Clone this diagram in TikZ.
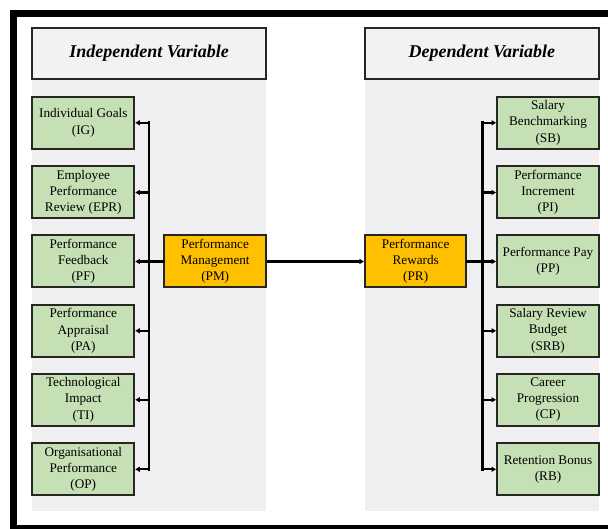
\documentclass[tikz,border=0pt]{standalone}
\usepackage{fontspec}
\setmainfont{Liberation Serif}
\usetikzlibrary{arrows.meta}
\definecolor{boxgreen}{HTML}{C5E0B4}
\definecolor{boxorange}{HTML}{FFC000}
\definecolor{panelgray}{HTML}{EFEFF1}
\definecolor{headgray}{HTML}{F2F2F2}
\definecolor{edge}{HTML}{262626}
\begin{document}
\begin{tikzpicture}[x=1pt,y=-1pt,
  base/.style={draw=edge,line width=2pt,align=center,inner sep=0pt,
    font=\fontsize{13.2}{16.2}\selectfont,text=black},
  greenbox/.style={base,fill=boxgreen,minimum width=102pt,minimum height=52pt},
  orangebox/.style={base,fill=boxorange,minimum width=101.5pt,minimum height=52pt},
  headbox/.style={base,fill=headgray,minimum width=233.7pt,minimum height=51.6pt,
    font=\fontsize{18}{21}\selectfont\bfseries\itshape},
  bus/.style={line width=2.7pt,line cap=rect},
  arr/.style={line width=2.2pt,-{Triangle[length=4.5pt,width=5pt]}}
]
\useasboundingbox (0,0) rectangle (608,529);
\begin{scope}
\clip (0,0) rectangle (608,529);
\fill[white] (0,0) rectangle (608,529);
\draw[line width=7pt] (13.5,13.5) rectangle (640,528.5);
\end{scope}
% panels
\fill[panelgray] (32.3,79.3) rectangle (266,510.7);
\fill[panelgray] (365,79.3) rectangle (598.7,510.7);
% headers
\node[headbox] (hl) at (149.2,53.5) {Independent Variable};
\node[headbox] (hr) at (481.9,53.5) {Dependent Variable};
% left boxes
\node[greenbox] (IG)  at (83.3,122.8) {Individual Goals\\(IG)};
\node[greenbox] (EPR) at (83.3,192.5) {Employee\\Performance\\Review (EPR)};
\node[greenbox] (PF)  at (83.3,261.5) {Performance\\Feedback\\(PF)};
\node[greenbox] (PA)  at (83.3,330.8) {Performance\\Appraisal\\(PA)};
\node[greenbox] (TI)  at (83.3,399.8) {Technological\\Impact\\(TI)};
\node[greenbox] (OP)  at (83.3,469.3) {Organisational\\Performance\\(OP)};
% right boxes
\node[greenbox] (SB)  at (548,122.8) {Salary\\Benchmarking\\(SB)};
\node[greenbox] (PI)  at (548,192.5) {Performance\\Increment\\(PI)};
\node[greenbox] (PP)  at (548,261.5) {Performance Pay\\(PP)};
\node[greenbox] (SRB) at (548,330.8) {Salary Review\\Budget\\(SRB)};
\node[greenbox] (CP)  at (548,399.8) {Career\\Progression\\(CP)};
\node[greenbox] (RB)  at (548,469.3) {Retention Bonus\\(RB)};
% centre boxes
\node[orangebox] (PM) at (215.2,261.5) {Performance\\Management\\(PM)};
\node[orangebox] (PR) at (415.7,261.5) {Performance\\Rewards\\(PR)};
% buses
\coordinate (lbus) at (149,0);
\coordinate (rbus) at (482.3,0);
\draw[bus] (lbus |- IG.east) -- (lbus |- OP.east);
\draw[bus] (PM.west) -- (lbus |- PM.west);
\foreach \n in {IG,EPR,PF,PA,TI,OP}
  \draw[arr] (lbus |- \n.east) -- (\n.east);
\draw[bus] (rbus |- SB.west) -- (rbus |- RB.west);
\draw[bus] (PR.east) -- (rbus |- PR.east);
\foreach \n in {SB,PI,PP,SRB,CP,RB}
  \draw[arr] (rbus |- \n.west) -- (\n.west);
\draw[arr] (PM.east) -- (PR.west);
\end{tikzpicture}
\end{document}
